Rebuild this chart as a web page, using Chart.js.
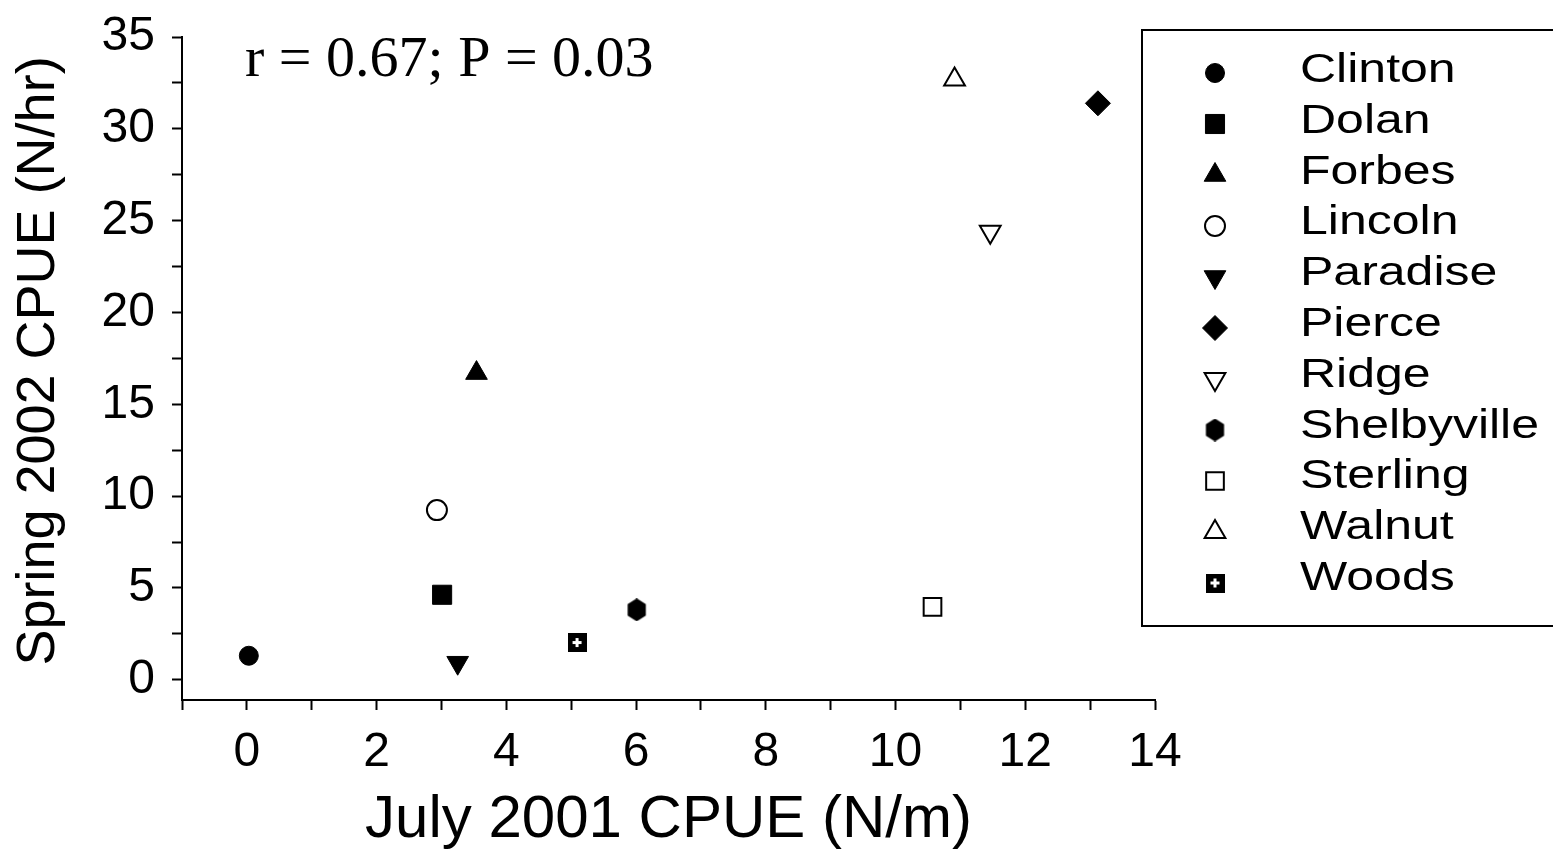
<!DOCTYPE html>
<html lang="en">
<head>
<meta charset="UTF-8">
<title>Spring 2002 vs July 2001 CPUE</title>
<style>
    body { margin: 0; background: #fff; }
    #wrap { width: 1553px; height: 856px; }
</style>
</head>
<body>
<div id="wrap"><canvas id="myChart" width="1553" height="856"></canvas></div>
<script src="https://cdn.jsdelivr.net/npm/chart.js"></script>
<script>
// values
const sites = ['Clinton', 'Dolan', 'Forbes', 'Lincoln', 'Paradise', 'Pierce', 'Ridge', 'Shelbyville', 'Sterling', 'Walnut', 'Woods'];
const julyCpue = [0.03, 3.01, 3.54, 2.93, 3.25, 13.12, 11.46, 6.01, 10.57, 10.91, 5.09];
const springCpue = [1.31, 4.63, 16.7, 9.24, 0.93, 31.39, 24.39, 3.81, 3.97, 32.69, 2.03];
const xTickLabels = [0, 2, 4, 6, 8, 10, 12, 14];
const yTickLabels = [0, 5, 10, 15, 20, 25, 30, 35];
const xTickMarks = [-1, 0, 1, 2, 3, 4, 5, 6, 7, 8, 9, 10, 11, 12, 13, 14];
const yTickMarks = [0, 2.5, 5, 7.5, 10, 12.5, 15, 17.5, 20, 22.5, 25, 27.5, 30, 32.5, 35];
const statsText = 'r = 0.67; P = 0.03';

// custom markers the library does not have
function hexagon() {
    const c = document.createElement('canvas');
    c.width = 21; c.height = 23;
    const g = c.getContext('2d');
    g.fillStyle = '#000';
    g.beginPath();
    for (let i = 0; i < 6; i++) {
        const a = Math.PI / 2 + i * Math.PI / 3;
        g.lineTo(10.5 + 10.5 * Math.cos(a), 11.5 + 11.5 * Math.sin(a));
    }
    g.closePath();
    g.fill();
    return c;
}
function plusBox() {
    const c = document.createElement('canvas');
    c.width = 19; c.height = 19;
    const g = c.getContext('2d');
    g.fillStyle = '#000';
    g.fillRect(0, 0, 19, 19);
    g.fillStyle = '#fff';
    g.fillRect(8, 5, 3, 9);
    g.fillRect(5, 8, 9, 3);
    return c;
}

// marker style per site: [pointStyle, rotation, radius, filled]
const markers = [
    ['circle', 0, 9.5, true],
    ['rect', 0, 13.5, true],
    ['triangle', 0, 12.5, true],
    ['circle', 0, 10, false],
    ['triangle', 180, 12.5, true],
    ['rectRot', 0, 12.5, true],
    ['triangle', 180, 12, false],
    [hexagon(), 0, 11, true],
    ['rect', 0, 12.5, false],
    ['triangle', 0, 12, false],
    [plusBox(), 0, 10, true]
];

const datasets = sites.map((name, i) => {
    const m = markers[i];
    return {
        label: name,
        data: [{ x: julyCpue[i], y: springCpue[i] }],
        pointStyle: m[0],
        rotation: m[1],
        pointRadius: m[2],
        pointHoverRadius: m[2],
        backgroundColor: m[3] ? '#000' : '#fff',
        borderColor: '#000',
        borderWidth: m[3] ? 1 : 2
    };
});

// legend box on the right
const boxLegend = {
    id: 'boxLegend',
    afterDraw(chart) {
        const ctx = chart.ctx;
        ctx.save();
        ctx.strokeStyle = '#000';
        ctx.lineWidth = 2;
        ctx.strokeRect(1142, 30, 500, 596);
        chart.data.datasets.forEach((ds, i) => {
            const y = 73 + i * 51;
            ctx.fillStyle = ds.backgroundColor;
            ctx.strokeStyle = ds.borderColor;
            ctx.lineWidth = ds.borderWidth;
            Chart.helpers.drawPoint(ctx, {
                pointStyle: ds.pointStyle,
                rotation: ds.rotation,
                radius: ds.pointRadius,
                borderWidth: ds.borderWidth
            }, 1215, y);
            ctx.save();
            ctx.translate(1300, 82 + i * 50.8);
            ctx.scale(1.25, 1);
            ctx.fillStyle = '#000';
            ctx.font = '40px "Liberation Sans", Arial, sans-serif';
            ctx.textBaseline = 'alphabetic';
            ctx.textAlign = 'left';
            ctx.fillText(ds.label, 0, 0);
            ctx.restore();
        });
        // stats note
        ctx.fillStyle = '#000';
        ctx.font = '58px "Liberation Serif", "Times New Roman", serif';
        ctx.textBaseline = 'alphabetic';
        ctx.fillText(statsText, 245, 76);
        ctx.restore();
    }
};

const tickFont = { family: '"Liberation Sans", Arial, sans-serif', size: 48 };

var ctx = document.getElementById('myChart').getContext('2d');
var myChart = new Chart(ctx, {
    type: 'scatter',
    data: { datasets: datasets },
    options: {
        responsive: false,
        animation: false,
        events: [],
        layout: { padding: { left: 0, top: 37, right: 398, bottom: 0 } },
        plugins: { legend: { display: false }, tooltip: { enabled: false } },
        scales: {
            x: {
                type: 'linear',
                min: -1,
                max: 14,
                border: { display: true, color: '#000', width: 2 },
                grid: { drawOnChartArea: false, drawTicks: true, tickLength: 10, tickWidth: 2, tickColor: '#000' },
                ticks: {
                    autoSkip: false,
                    maxRotation: 0,
                    color: '#000',
                    font: tickFont,
                    padding: 14,
                    callback: v => xTickLabels.includes(v) ? String(v) : ''
                },
                afterBuildTicks: s => { s.ticks = xTickMarks.map(v => ({ value: v })); },
                title: {
                    display: true,
                    text: 'July 2001 CPUE (N/m)',
                    color: '#000',
                    font: { family: '"Liberation Sans", Arial, sans-serif', size: 60 },
                    padding: { top: 0, bottom: 0 }
                },
                afterFit: s => { s.height = 156; s.paddingLeft = 0; s.paddingRight = 0; }
            },
            y: {
                type: 'linear',
                min: -1.1,
                max: 35,
                border: { display: true, color: '#000', width: 2 },
                grid: { drawOnChartArea: false, drawTicks: true, tickLength: 10, tickWidth: 2, tickColor: '#000' },
                ticks: {
                    autoSkip: false,
                    color: '#000',
                    font: tickFont,
                    padding: 17,
                    callback: v => yTickLabels.includes(v) ? String(v) : ''
                },
                afterBuildTicks: s => { s.ticks = yTickMarks.map(v => ({ value: v })); },
                title: {
                    display: true,
                    text: ' Spring 2002 CPUE (N/hr)',
                    color: '#000',
                    font: { family: '"Liberation Sans", Arial, sans-serif', size: 54 },
                    padding: { top: 7, bottom: 0 }
                },
                afterFit: s => { s.width = 182; s.paddingTop = 0; s.paddingBottom = 0; }
            }
        }
    },
    plugins: [boxLegend]
});
</script>
</body>
</html>
